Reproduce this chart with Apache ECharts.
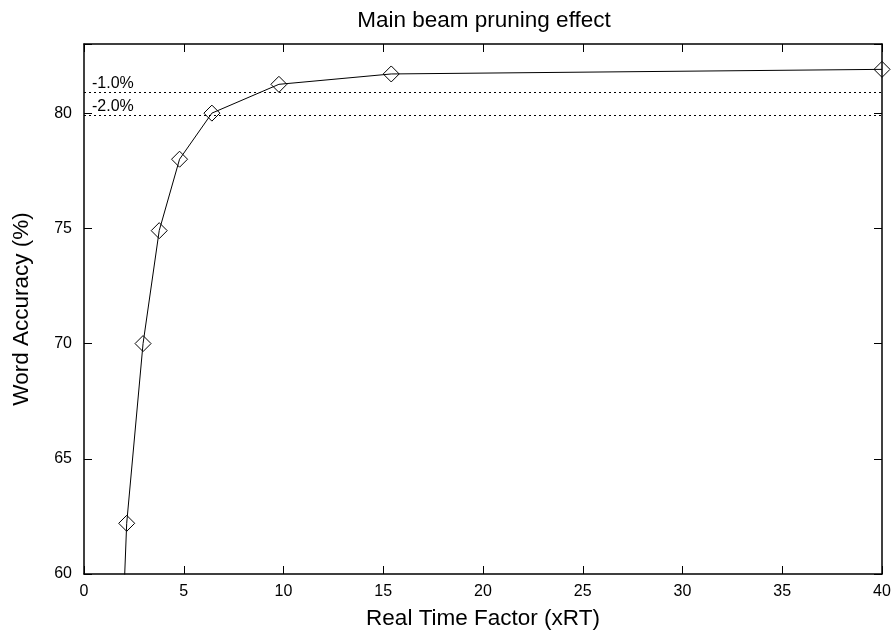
<!DOCTYPE html>
<html><head><meta charset="utf-8">
<script src="https://cdn.jsdelivr.net/npm/echarts@6/dist/echarts.min.js"></script>
<style>html,body{margin:0;padding:0;background:#fff}#c{width:896px;height:637px}</style>
</head><body><div id="c"></div>
<script>
const rtf = [1.9, 2.14, 2.96, 3.77, 4.79, 6.41, 9.77, 15.4, 40];
const accuracy = [56.9, 62.2, 70.0, 74.9, 78.0, 80.0, 81.25, 81.7, 81.9];
const refLevels = [80.9, 79.9];
const refLabels = ['-1.0%', '-2.0%'];
const xTicks = [0, 5, 10, 15, 20, 25, 30, 35, 40];
const yTicks = [60, 65, 70, 75, 80];

const font = 'Liberation Sans, Arial, sans-serif';
const chart = echarts.init(document.getElementById('c'), null, {renderer: 'canvas'});
const axBase = {
  axisLine: {show: true, onZero: false, lineStyle: {color: '#000', width: 1.5}},
  axisTick: {show: true, inside: true, length: 8, lineStyle: {color: '#000', width: 1}},
  splitLine: {show: false}
};
chart.setOption({
  animation: false,
  title: {text: 'Main beam pruning effect', left: 479, textAlign: 'center', top: 4,
    textStyle: {fontFamily: font, fontSize: 22.5, fontWeight: 'normal', color: '#000'}},
  grid: {left: 84, right: 14, top: 44, bottom: 63},
  xAxis: [
    Object.assign({type: 'value', min: 0, max: 40, interval: 5, position: 'bottom',
      name: 'Real Time Factor (xRT)', nameLocation: 'middle', nameGap: 33,
      nameTextStyle: {fontFamily: font, fontSize: 22.5, color: '#000'},
      axisLabel: {fontFamily: font, fontSize: 16, color: '#000', margin: 10,
        formatter: v => xTicks.includes(v) ? String(v) : ''}}, axBase),
    Object.assign({type: 'value', min: 0, max: 40, interval: 5, position: 'top',
      axisLabel: {show: false}}, axBase)
  ],
  yAxis: [
    Object.assign({type: 'value', min: 60, max: 83, interval: 5, position: 'left',
      name: 'Word Accuracy (%)', nameLocation: 'middle', nameGap: 51,
      nameTextStyle: {fontFamily: font, fontSize: 22.5, color: '#000'},
      axisLabel: {fontFamily: font, fontSize: 16, color: '#000', margin: 12,
        formatter: v => yTicks.includes(v) ? String(v) : ''}}, axBase),
    Object.assign({type: 'value', min: 60, max: 83, interval: 5, position: 'right',
      axisLabel: {show: false}}, axBase)
  ],
  series: [
    {
      type: 'line', xAxisIndex: 0, yAxisIndex: 0, clip: true,
      data: rtf.map((x, i) => [x, accuracy[i]]),
      symbol: 'diamond', symbolSize: [16, 16], showAllSymbol: true,
      itemStyle: {color: 'rgba(0,0,0,0)', borderColor: '#000', borderWidth: 1},
      lineStyle: {color: '#000', width: 1},
      z: 3,
      markLine: {
        silent: true, symbol: 'none', animation: false,
        lineStyle: {color: '#000', width: 1, type: [2, 3]},
        label: {position: 'insideStartTop', distance: [8, 1], fontFamily: font, fontSize: 16, color: '#000',
          formatter: p => p.name},
        data: refLevels.map((v, i) => ({yAxis: v, name: refLabels[i]}))
      }
    }
  ]
});
</script></body></html>
